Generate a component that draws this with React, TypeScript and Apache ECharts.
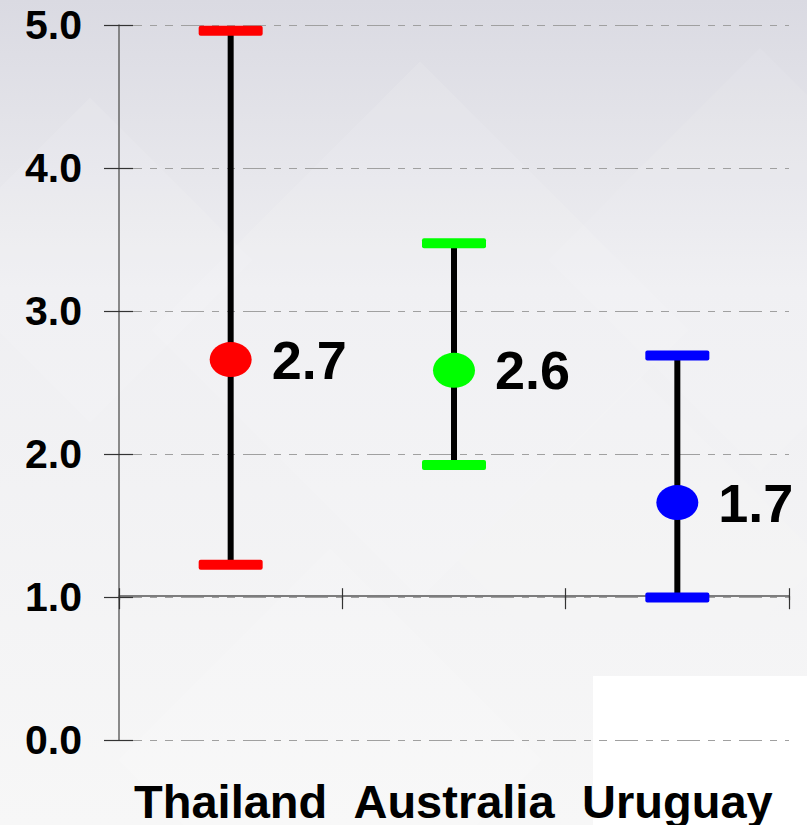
import React, { useEffect, useRef } from 'react';
import * as echarts from 'echarts';

const categories = ['Thailand', 'Australia', 'Uruguay'];
const means = [2.66, 2.585, 1.66];
const lows = [1.225, 1.923, 0.996];
const highs = [4.96, 3.473, 2.689];
const pointColors = ['#ff0000', '#00ff00', '#0000ff'];
const yMin = 0;
const yMax = 5;
const yInterval = 1;
const axisCrossValue = 1;

const W = 807;
const H = 825;
const gridLeft = 119;
const gridRight = 18;
const gridTop = 25;
const gridBottom = 81;

export default function App() {
  const ref = useRef<HTMLDivElement>(null);
  useEffect(() => {
    document.body.style.margin = '0';
    const chart = echarts.init(ref.current!, null, { renderer: 'svg' });
    const plotH = H - gridTop - gridBottom;
    const plotW = W - gridLeft - gridRight;
    const unit = plotH / (yMax - yMin);
    const font = '"Liberation Sans", Arial, Helvetica, sans-serif';
    const bgShape = (cx: number, cy: number, s: number, a: number) => ({
      type: 'rect',
      z: -9,
      silent: true,
      x: cx,
      y: cy,
      rotation: Math.PI / 4,
      shape: { x: -s / 2, y: -s / 2, width: s, height: s },
      style: { fill: `rgba(255,255,255,${a})` },
    });
    const option: any = {
      animation: false,
      grid: { left: gridLeft, right: gridRight, top: gridTop, bottom: gridBottom, containLabel: false },
      graphic: [
        {
          type: 'rect',
          z: -10,
          silent: true,
          shape: { x: 0, y: 0, width: W, height: H },
          style: {
            fill: new echarts.graphic.LinearGradient(0, 0, 0, 1, [
              { offset: 0, color: '#dadae2' },
              { offset: 0.35, color: '#efeff2' },
              { offset: 1, color: '#f7f7f7' },
            ]),
          },
        },
        bgShape(90, 260, 230, 0.1),
        bgShape(420, 330, 380, 0.1),
        bgShape(760, 260, 300, 0.08),
        bgShape(330, 760, 300, 0.12),
        bgShape(640, 560, 260, 0.08),
        {
          type: 'rect',
          z: -8,
          silent: true,
          shape: { x: 593, y: 676, width: W - 593, height: H - 676 },
          style: { fill: '#ffffff' },
        },
      ],
      xAxis: [
        {
          type: 'category',
          data: categories,
          position: 'bottom',
          axisLine: { show: false },
          axisTick: { show: false },
          splitLine: { show: false },
          axisLabel: {
            interval: 0,
            color: '#000',
            fontSize: 47,
            fontWeight: 'bold',
            fontFamily: font,
            margin: 38,
          },
        },
        {
          type: 'category',
          data: categories,
          position: 'bottom',
          offset: -(axisCrossValue - yMin) * unit,
          axisLine: { show: true, lineStyle: { color: '#555', width: 1.5 } },
          axisTick: { show: true, length: 13, lineStyle: { color: '#333', width: 1.2 } },
          axisLabel: { show: false },
          splitLine: { show: false },
        },
        {
          type: 'category',
          data: categories,
          position: 'top',
          offset: -(yMax - axisCrossValue) * unit,
          axisLine: { show: false },
          axisTick: { show: true, length: 12, lineStyle: { color: '#333', width: 1.2 } },
          axisLabel: { show: false },
          splitLine: { show: false },
        },
      ],
      yAxis: [
        {
          type: 'value',
          min: yMin,
          max: yMax,
          interval: yInterval,
          position: 'left',
          axisLine: { show: true, lineStyle: { color: '#666', width: 1.5 } },
          axisTick: { show: true, length: 15, lineStyle: { color: '#333', width: 1.2 } },
          axisLabel: {
            color: '#000',
            fontSize: 41,
            fontWeight: 'bold',
            fontFamily: font,
            margin: 37,
            formatter: (v: number) => v.toFixed(1),
          },
          splitLine: {
            show: true,
            lineStyle: { color: '#a0a0a0', width: 1, type: [23, 8, 7, 8, 8, 8] },
          },
        },
        {
          type: 'value',
          min: yMin,
          max: yMax,
          interval: yInterval,
          position: 'right',
          offset: -plotW,
          axisLine: { show: false },
          axisTick: { show: true, length: 14, lineStyle: { color: '#333', width: 1.2 } },
          axisLabel: { show: false },
          splitLine: { show: false },
        },
      ],
      series: [
        {
          type: 'custom',
          xAxisIndex: 0,
          yAxisIndex: 0,
          z: 2,
          data: categories.map((c, i) => [i, lows[i], highs[i]]),
          renderItem: (params: any, api: any) => {
            const idx = api.value(0);
            const lo = api.coord([idx, api.value(1)]);
            const hi = api.coord([idx, api.value(2)]);
            const color = pointColors[params.dataIndex];
            const capW = 64;
            const capH = 10;
            return {
              type: 'group',
              children: [
                {
                  type: 'line',
                  shape: { x1: lo[0], y1: lo[1], x2: hi[0], y2: hi[1] },
                  style: { stroke: '#000', lineWidth: 6 },
                },
                {
                  type: 'rect',
                  shape: { x: hi[0] - capW / 2, y: hi[1] - capH / 2, width: capW, height: capH, r: 2 },
                  style: { fill: color },
                },
                {
                  type: 'rect',
                  shape: { x: lo[0] - capW / 2, y: lo[1] - capH / 2, width: capW, height: capH, r: 2 },
                  style: { fill: color },
                },
              ],
            };
          },
        },
        {
          type: 'scatter',
          xAxisIndex: 0,
          yAxisIndex: 0,
          z: 3,
          symbol: 'path://M0 50 A50 50 0 1 1 100 50 A50 50 0 1 1 0 50 Z',
          symbolSize: [42, 35],
          itemStyle: { opacity: 1 },
          data: means.map((v, i) => ({ value: [i, v], itemStyle: { color: pointColors[i], opacity: 1 } })),
          label: {
            show: true,
            position: 'right',
            distance: 20,
            color: '#000',
            fontSize: 54,
            fontWeight: 'bold',
            fontFamily: font,
            formatter: (p: any) => p.value[1].toFixed(1),
          },
        },
      ],
    };
    chart.setOption(option);
    return () => chart.dispose();
  }, []);
  return (
    <div
      ref={ref}
      style={{ width: W, height: H, position: 'absolute', left: 0, top: 0 }}
    />
  );
}
